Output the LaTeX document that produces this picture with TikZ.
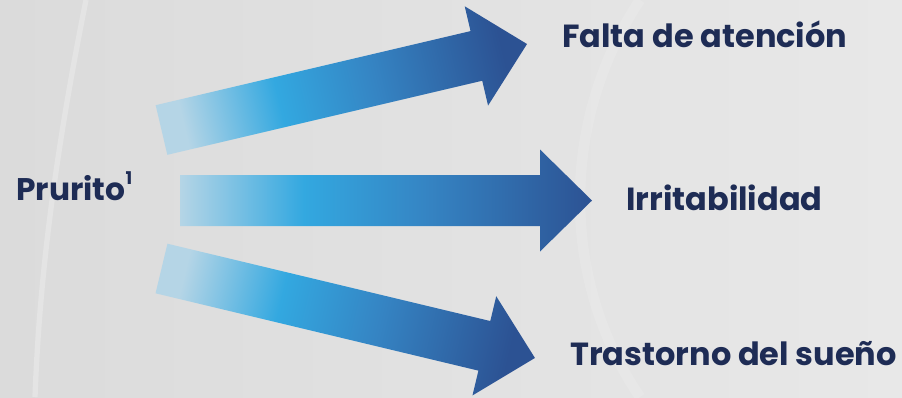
\documentclass[tikz,border=0pt]{standalone}
\usepackage{fontspec}
\setmainfont{Poppins}
\usepackage{tikz}
\definecolor{navytext}{HTML}{1E2C55}
\definecolor{paleblue}{HTML}{B5D5E6}
\definecolor{brightblue}{HTML}{33A8E0}
\definecolor{steelblue}{HTML}{3584C3}
\definecolor{deepblue}{HTML}{2C5293}
\definecolor{bgleft}{HTML}{DBDBDB}
\definecolor{bgright}{HTML}{E8E8E8}
\pgfdeclarehorizontalshading{arrowshade}{100bp}{color(0bp)=(paleblue); color(25bp)=(paleblue); color(40bp)=(brightblue); color(55bp)=(steelblue); color(75bp)=(deepblue); color(100bp)=(deepblue)}
\tikzset{
  itemtext/.style={text=navytext, font=\fontsize{18.2pt}{21pt}\selectfont\bfseries, inner sep=0pt, anchor=base west},
  arrowbody/.style={shading=arrowshade}
}

\begin{document}
\begin{tikzpicture}[x=0.02cm, y=-0.02cm]
      \useasboundingbox (0,0) rectangle (902,397);
      % background
      \fill[left color=bgleft, right color=bgright] (0,0) rectangle (902,397);
      \draw[white, opacity=0.25, line width=3pt] (86,0) .. controls (60,130) and (40,260) .. (35,397);
      \draw[white, opacity=0.12, line width=6pt] (640,0) .. controls (560,120) and (560,280) .. (640,397);

      % the three block arrows
      \foreach \tx/\ty/\ang/\len in {161.5/130/13.24/375.5, 180/200.5/0/412, 161.5/268.5/-13.47/384}{
        \begin{scope}[shift={(\tx,\ty)}, rotate=\ang]
          \path[arrowbody, shading angle=\ang] (0,-25.5) -- (\len-52,-25.5) -- (\len-52,-51)
            -- (\len,0) -- (\len-52,51) -- (\len-52,25.5) -- (0,25.5) -- cycle;
        \end{scope}
      }

      \node[itemtext, font=\fontsize{17.8pt}{21pt}\selectfont\bfseries] (prurito) at (16,200)
        {Prurito\raisebox{0.9ex}{\fontsize{10pt}{12pt}\selectfont 1}};
      \node[itemtext] (falta) at (562,47) {Falta de atención};
      \node[itemtext] (irrit) at (626,210) {Irritabilidad};
      \node[itemtext] (trast) at (570,365) {Trastorno del sueño};
    \end{tikzpicture}
\end{document}
